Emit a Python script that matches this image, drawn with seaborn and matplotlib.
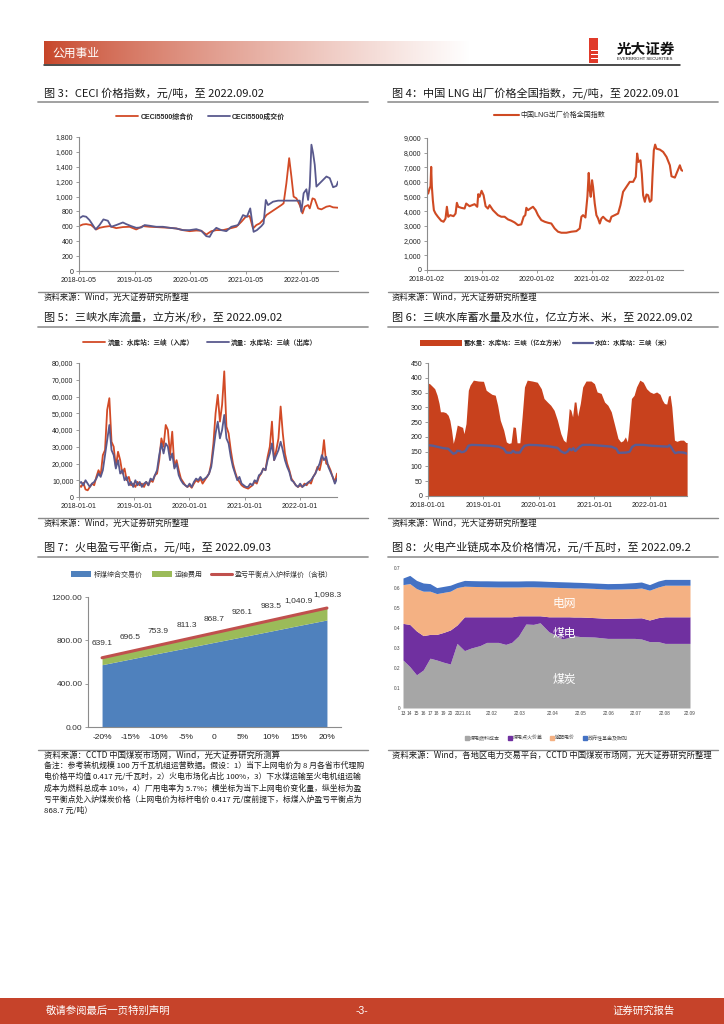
import numpy as np
import pandas as pd
import matplotlib
matplotlib.use('Agg')
import matplotlib.pyplot as plt
import matplotlib.dates as mdates
import matplotlib.ticker as mticker
from matplotlib.lines import Line2D
from matplotlib.patches import Rectangle, Patch
import seaborn as sns

# ---------------- data ----------------
# Fig 3 CECI (decimal years)
ceci_mix_t = [2018.01,2018.08,2018.14,2018.23,2018.32,2018.38,2018.47,2018.56,2018.68,2018.80,2018.92,
              2019.04,2019.16,2019.28,2019.40,2019.52,2019.64,2019.76,2019.88,
              2020.00,2020.12,2020.21,2020.30,2020.39,2020.48,2020.60,2020.72,2020.84,2020.93,
              2021.01,2021.08,2021.14,2021.20,2021.26,2021.32,2021.38,2021.47,2021.56,2021.65,2021.69,2021.74,2021.79,2021.83,2021.87,2021.92,2021.98,
              2022.03,2022.07,2022.13,2022.16,2022.21,2022.25,2022.31,2022.37,2022.46,2022.52,2022.58,2022.67]
ceci_mix_v = [603,625,630,617,558,580,594,603,576,590,594,
              558,603,594,590,585,580,571,549,
              535,544,540,490,535,549,549,571,594,661,
              729,738,571,617,639,684,751,796,841,886,909,1179,1516,1269,999,976,886,
              774,864,886,841,976,963,841,828,864,873,855,850]
ceci_deal_t = [2018.01,2018.08,2018.14,2018.20,2018.26,2018.31,2018.38,2018.45,2018.53,2018.59,2018.68,2018.80,2018.86,2018.95,
               2019.04,2019.13,2019.19,2019.28,2019.40,2019.52,2019.64,2019.76,2019.88,
               2020.00,2020.12,2020.21,2020.30,2020.36,2020.41,2020.48,2020.57,2020.66,2020.75,2020.87,2020.96,
               2021.03,2021.09,2021.15,2021.21,2021.29,2021.33,2021.37,2021.41,2021.50,2021.59,2021.68,2021.80,2021.92,2021.98,
               2022.01,2022.05,2022.10,2022.13,2022.16,2022.19,2022.22,2022.25,2022.28,2022.34,2022.40,2022.46,2022.52,2022.58,2022.64,2022.67]
ceci_deal_v = [706,738,729,684,617,558,617,693,675,594,617,652,630,603,
               580,585,617,608,594,594,580,571,549,
               549,562,540,468,459,526,580,549,535,594,617,751,
               729,841,526,549,603,639,954,886,931,945,945,945,945,945,
               796,1044,1098,954,1134,1697,1584,1427,1134,1179,1224,1269,1247,1125,1143,1202]

# Fig 4 LNG
lng_t = [2018.000,2018.024,2018.049,2018.067,2018.079,2018.091,
         2018.109,2018.128,2018.158,2018.201,2018.261,2018.304,2018.340,2018.365,2018.389,2018.426,
         2018.486,2018.523,2018.547,2018.571,2018.626,2018.687,2018.717,2018.778,2018.869,2018.918,
         2018.936,2018.960,2018.997,2019.033,2019.070,2019.112,2019.143,2019.204,2019.295,2019.356,
         2019.416,2019.477,2019.538,2019.599,2019.660,2019.720,2019.763,2019.793,2019.812,2019.842,
         2019.884,2019.933,2019.982,2020.024,2020.085,2020.146,2020.207,2020.267,2020.328,2020.389,
         2020.450,2020.541,2020.632,2020.723,2020.784,2020.815,2020.845,2020.888,2020.924,2020.948,
         2020.967,2020.985,2021.009,2021.027,2021.058,2021.088,2021.119,2021.149,2021.179,2021.210,
         2021.271,2021.331,2021.362,2021.422,2021.483,2021.526,2021.574,2021.635,2021.696,2021.757,
         2021.805,2021.830,2021.854,2021.891,2021.915,2021.939,2021.970,2022.000,2022.030,2022.061,
         2022.091,2022.109,2022.134,2022.158,2022.182,2022.243,2022.304,2022.365,2022.426,2022.456,
         2022.517,2022.559,2022.608,2022.638,2022.669]
lng_v = [5490,5210,5550,5710,7030,5710,
         4760,4080,3850,3630,3360,3290,3510,4310,3630,3740,
         3670,3850,4580,4310,4240,4190,4530,4350,4490,4310,
         5170,4990,5400,5100,4350,4190,4420,4080,3740,3630,
         3630,3450,3360,3240,3060,3110,3630,3740,4240,4080,
         4190,4310,4080,3740,3400,3290,3220,3170,2830,2610,
         2540,2540,2610,2650,2830,3630,3740,3580,4990,6620,
         5440,4990,6120,5670,4530,3740,3510,3170,3510,3630,
         3400,3290,3630,3740,3850,4420,5330,5670,6010,6010,
         6350,7940,7370,7480,6580,5100,4650,5150,5100,4650,
         4760,6350,8160,8550,8270,8210,8050,7710,7140,6390,
         6300,6690,7140,6800,6760]

# Fig 5 Three Gorges flow (roughly bi-weekly samples 2018-01-01 .. 2022-09-02)
flow_in = [7000,6000,8500,4500,4000,6000,8000,7000,12000,16000,
           13000,25000,28000,52000,59000,33000,30000,18000,27000,22000,
           14000,17000,10000,12000,7000,8000,6000,9000,7000,8000,
           6000,9000,7000,10000,9000,13000,14000,22000,35000,30000,
           43000,40000,25000,39000,18000,22000,16000,11000,9000,7000,
           6000,7000,5500,8000,10000,9000,11000,8000,10000,12000,
           14000,20000,32000,50000,61000,45000,55000,75000,42000,38000,
           28000,20000,15000,11000,9000,7000,6000,5500,5000,6000,
           7000,9000,8000,12000,14000,17000,16000,24000,30000,45000,
           22000,28000,35000,54000,38000,26000,20000,16000,11000,9000,
           7000,6000,7000,6000,8000,7000,9000,8000,12000,14000,
           18000,16000,22000,34000,20000,19000,16000,12000,9000,14000]
flow_out = [8000,9000,7000,10000,8000,6000,8000,9000,11000,14000,
            12000,16000,25000,34000,43000,28000,25000,17000,22000,14000,
            16000,10000,12000,7000,9000,6000,10000,7000,9000,6000,
            8000,9000,7000,11000,10000,13000,16000,25000,32000,26000,
            32000,30000,22000,26000,17000,20000,13000,10000,8000,7000,
            6000,8000,6000,9000,11000,10000,12000,10000,11000,12000,
            14000,18000,28000,38000,45000,35000,40000,49000,35000,32000,
            24000,18000,14000,10000,12000,8000,7000,6000,6000,8000,
            7000,10000,9000,13000,14000,17000,16000,22000,26000,32000,
            22000,25000,28000,33000,28000,22000,18000,15000,10000,9000,
            7000,6000,8000,6000,7000,8000,9000,10000,12000,14000,
            17000,20000,25000,22000,24000,18000,15000,12000,8000,11000]

# Fig 6 storage and level
stor_t = [2018.000,2018.030,2018.079,2018.121,2018.164,2018.200,2018.224,2018.273,2018.321,2018.364,
          2018.394,2018.424,2018.455,2018.485,2018.527,2018.576,2018.624,2018.648,2018.685,2018.727,
          2018.758,2018.818,2018.909,2019.000,2019.048,2019.091,2019.152,2019.212,2019.255,2019.303,
          2019.364,2019.412,2019.455,2019.497,2019.533,2019.576,2019.606,2019.655,2019.697,2019.739,
          2019.788,2019.879,2019.970,2020.042,2020.091,2020.152,2020.212,2020.273,2020.333,2020.394,
          2020.442,2020.485,2020.515,2020.545,2020.576,2020.606,2020.636,2020.667,2020.697,2020.745,
          2020.788,2020.848,2020.939,2021.000,2021.048,2021.121,2021.182,2021.242,2021.303,2021.364,
          2021.424,2021.473,2021.515,2021.558,2021.594,2021.618,2021.667,2021.715,2021.758,2021.818,
          2021.879,2021.939,2022.000,2022.061,2022.121,2022.182,2022.224,2022.261,2022.303,2022.333,
          2022.364,2022.394,2022.442,2022.485,2022.545,2022.606,2022.648,2022.670]
stor_v = [382,380,371,363,341,313,285,285,282,273,
          256,223,178,200,240,236,232,211,245,358,
          375,392,389,388,358,352,344,341,307,256,
          223,183,178,180,234,232,180,180,270,369,
          392,389,385,363,330,318,307,290,256,211,
          189,182,228,296,290,268,318,318,270,313,
          369,389,389,380,352,347,318,307,285,240,
          195,183,187,200,183,223,330,341,369,392,
          385,363,352,347,352,344,324,313,311,338,
          341,301,189,185,189,189,181,181]
level_t = [2018.000,2018.091,2018.182,2018.273,2018.364,2018.406,2018.455,2018.503,2018.527,2018.576,
           2018.606,2018.648,2018.685,2018.727,2018.788,2018.939,2019.121,2019.273,2019.364,2019.412,
           2019.497,2019.533,2019.576,2019.655,2019.697,2019.739,2019.818,2019.970,2020.152,2020.333,
           2020.406,2020.467,2020.515,2020.552,2020.588,2020.618,2020.655,2020.697,2020.745,2020.788,
           2020.939,2021.121,2021.303,2021.394,2021.436,2021.576,2021.636,2021.679,2021.739,2021.879,
           2022.030,2022.212,2022.321,2022.352,2022.382,2022.424,2022.455,2022.515,2022.606,2022.670]
level_v = [172,170,166,162,160,152,143,146,153,152,
           148,150,155,170,173,172,170,167,160,147,
           146,153,147,147,160,170,173,172,169,163,
           150,145,150,160,155,162,152,160,168,173,
           173,170,167,160,146,147,150,166,173,173,
           170,168,167,172,165,152,145,148,147,143]

# Fig 7 break-even
be_cats = ['-20%', '-15%', '-10%', '-5%', '0', '5%', '10%', '15%', '20%']
be_coal = [575, 627, 679, 730, 782, 833, 885, 937, 988]
be_transport = [64, 70, 75, 81, 87, 93, 98, 104, 110]
be_total = [639.1, 696.5, 753.9, 811.3, 868.7, 926.1, 983.5, 1040.9, 1098.3]

# Fig 8 cost chain (period index along the category axis)
chain_x = [0, 1, 2, 3, 4, 5, 6, 7, 8, 9.1, 10.1, 11.4, 12.4, 14.1, 15.2, 16.1, 17.1, 18.2, 19.3, 20.3,
           21.6, 22.6, 23.6, 24.6, 25.3, 26.3, 28.3, 30.3, 32.3, 34.3, 35.3, 36.5, 37.8, 38.8, 40.8, 42.5]
chain_coal = [0.240,0.207,0.166,0.190,0.249,0.240,0.229,0.220,0.323,0.287,0.300,0.312,0.328,0.328,0.318,0.328,
              0.360,0.420,0.418,0.426,0.381,0.365,0.345,0.353,0.361,0.357,0.355,0.348,0.348,0.348,0.345,
              0.332,0.332,0.323,0.323,0.323]
chain_margin = [0.183,0.211,0.219,0.172,0.119,0.128,0.149,0.170,0.092,0.169,0.156,0.144,0.128,0.128,0.138,0.128,
                0.101,0.041,0.043,0.035,0.075,0.091,0.111,0.103,0.094,0.098,0.097,0.100,0.100,0.102,0.106,
                0.108,0.120,0.133,0.133,0.133]
chain_grid = [0.194,0.204,0.212,0.222,0.216,0.204,0.200,0.194,0.187,0.153,0.152,0.151,0.150,0.149,0.149,0.149,
              0.144,0.145,0.145,0.144,0.148,0.147,0.146,0.145,0.145,0.145,0.146,0.146,0.147,0.147,0.149,
              0.149,0.153,0.158,0.158,0.158]
chain_fund = [0.033,0.041,0.041,0.041,0.038,0.030,0.030,0.030,0.025,0.029,0.029,0.029,0.030,0.030,0.030,0.030,
              0.030,0.030,0.030,0.030,0.029,0.029,0.029,0.029,0.029,0.028,0.027,0.028,0.028,0.030,0.030,
              0.028,0.030,0.029,0.029,0.029]
chain_tick_pos = [0, 1, 2, 3, 4, 5, 6, 7, 8.9, 13.1, 17.2, 22.1, 26.3, 30.5, 34.5, 38.7, 42.5]
chain_tick_lab = ['13', '14', '15', '16', '17', '18', '19', '20', '2021.01', '22.02', '22.03', '22.04',
                  '22.05', '22.06', '22.07', '22.08', '22.09']

# ---------------- style ----------------
sns.set_theme(style='ticks')
plt.rcParams['font.family'] = ['Liberation Sans', 'Noto Sans CJK SC', 'DejaVu Sans']
plt.rcParams['axes.unicode_minus'] = False

W, H = 724, 1024
fig = plt.figure(figsize=(7.24, 10.24), dpi=100)
fig.patch.set_facecolor('white')

def fx(x): return x / W
def fy(y): return 1 - y / H
def rect(l, t, r, b): return [fx(l), fy(b), (r - l) / W, (b - t) / H]
def ftext(x, y, s, **kw):
    kw.setdefault('va', 'center')
    return fig.text(fx(x), fy(y), s, **kw)
def hline(x0, x1, y, color, lw):
    fig.add_artist(Line2D([fx(x0), fx(x1)], [fy(y), fy(y)], color=color, lw=lw, transform=fig.transFigure))
def frect(l, t, r, b, color):
    fig.add_artist(Rectangle((fx(l), fy(b)), (r - l) / W, (b - t) / H, facecolor=color, edgecolor='none',
                             transform=fig.transFigure))
def yr2date(v):
    v = np.asarray(v, dtype=float)
    return pd.Timestamp('2018-01-01') + pd.to_timedelta((v - 2018.0) * 365.25, unit='D')

RED = '#d24a26'
NAVY = '#59598d'
AXC = '#8c8c8c'
TXT = '#222222'

def style_ax(ax, ylim, yticks, yfmt, lsize=5):
    ax.set_ylim(ylim)
    ax.set_yticks(yticks)
    ax.yaxis.set_major_formatter(yfmt)
    for s in ['top', 'right']:
        ax.spines[s].set_visible(False)
    for s in ['left', 'bottom']:
        ax.spines[s].set_color(AXC)
        ax.spines[s].set_linewidth(0.8)
    ax.tick_params(axis='both', labelsize=lsize, colors=AXC, labelcolor=TXT, length=2, width=0.6, pad=2)
    ax.set_xlabel('')
    ax.set_ylabel('')
    ax.set_facecolor('white')

def date_axis(ax, tick_strs, start, end):
    ax.set_xlim(pd.Timestamp(start), pd.Timestamp(end))
    pos = mdates.date2num(pd.to_datetime(tick_strs).to_pydatetime())
    ax.set_xticks(pos)
    ax.set_xticklabels(tick_strs)

comma = mticker.FuncFormatter(lambda v, p: f'{int(v):,}')

# ---------------- header / footer ----------------
axh = fig.add_axes(rect(44, 41, 470, 64))
g = np.linspace(0, 1, 300) ** 0.8
c0 = np.array([0.78, 0.27, 0.16])
grad = (c0[None, :] * (1 - g[:, None]) + np.ones(3)[None, :] * g[:, None])[None, :, :]
axh.imshow(grad, aspect='auto', extent=[0, 1, 0, 1])
axh.axis('off')
ftext(52, 53, '公用事业', color='white', fontsize=8.5, family=['Noto Sans CJK SC'])
hline(44, 680, 64.5, '#1a1a1a', 1.1)
# logo
frect(589, 38, 598, 63, '#e03a2a')
for yy in [50, 54, 58]:
    frect(591, yy, 598, yy + 1.3, 'white')
ftext(617, 49, '光大证券', fontsize=10.5, fontweight='bold', color='#111111', family=['Noto Sans CJK SC'])
ftext(617, 59, 'EVERBRIGHT SECURITIES', fontsize=3.2, color='#111111')

frect(0, 998, 724, 1024, '#c6432a')
ftext(46, 1011, '敬请参阅最后一页特别声明', fontsize=7.5, color='white', family=['Noto Sans CJK SC'])
ftext(362, 1011, '-3-', fontsize=7.5, color='white', ha='center')
ftext(675, 1011, '证券研究报告', fontsize=7.5, color='white', ha='right', family=['Noto Sans CJK SC'])

# ---------------- titles / sources ----------------
TF = ['Noto Sans CJK SC', 'DejaVu Sans']
def title(x, y, s):
    ftext(x, y, s, fontsize=8, color='#1a1a1a', family=TF)
def source(x, y, s):
    ftext(x, y, s, fontsize=6, color='#1a1a1a', family=TF)

title(44, 93, '图 3：CECI 价格指数，元/吨，至 2022.09.02')
title(392, 93, '图 4：中国 LNG 出厂价格全国指数，元/吨，至 2022.09.01')
title(44, 318, '图 5：三峡水库流量，立方米/秒，至 2022.09.02')
title(392, 318, '图 6：三峡水库蓄水量及水位，亿立方米、米，至 2022.09.02')
title(44, 548, '图 7：火电盈亏平衡点，元/吨，至 2022.09.03')
title(392, 548, '图 8：火电产业链成本及价格情况，元/千瓦时，至 2022.09.2')
for yy in [101.5, 326.5, 556.5]:
    hline(38, 368, yy, '#9a9a9a', 1.3)
    hline(388, 718, yy, '#9a9a9a', 1.3)
for yy in [291.5, 517.5, 749.5]:
    hline(38, 368, yy, '#8a8a8a', 1.0)
    hline(388, 718, yy, '#8a8a8a', 1.0)
source(44, 297, '资料来源：Wind，光大证券研究所整理')
source(392, 297, '资料来源：Wind，光大证券研究所整理')
source(44, 523, '资料来源：Wind，光大证券研究所整理')
source(392, 523, '资料来源：Wind，光大证券研究所整理')
source(44, 755, '资料来源：CCTD 中国煤炭市场网，Wind，光大证券研究所测算')
source(392, 755, '资料来源：Wind，各地区电力交易平台，CCTD 中国煤炭市场网，光大证券研究所整理')
notes = ['备注：参考装机规模 100 万千瓦机组运营数据。假设：1）当下上网电价为 8 月各省市代理购',
         '电价格平均值 0.417 元/千瓦时，2）火电市场化占比 100%，3）下水煤运输至火电机组运输',
         '成本为燃料总成本 10%，4）厂用电率为 5.7%；横坐标为当下上网电价变化量，纵坐标为盈',
         '亏平衡点处入炉煤炭价格（上网电价为标杆电价 0.417 元/度前提下，标煤入炉盈亏平衡点为',
         '868.7 元/吨）']
for i, s in enumerate(notes):
    ftext(44, 766 + i * 11.2, s, fontsize=5.65, color='#1a1a1a', family=TF)

# ---------------- Fig 3 ----------------
ax3 = fig.add_axes(rect(79, 137, 338, 271))
sns.lineplot(x=yr2date(ceci_mix_t), y=ceci_mix_v, ax=ax3, color=RED, lw=1.3, label='CECI5500综合价')
sns.lineplot(x=yr2date(ceci_deal_t), y=ceci_deal_v, ax=ax3, color=NAVY, lw=1.3, label='CECI5500成交价')
style_ax(ax3, (0, 1800), np.arange(0, 1801, 200), comma)
date_axis(ax3, ['2018-01-05', '2019-01-05', '2020-01-05', '2021-01-05', '2022-01-05'], '2018-01-05', '2022-09-02')
ax3.legend(loc='center', bbox_to_anchor=(0.47, 1.15), ncol=2, frameon=False, handlelength=3.2,
           columnspacing=2.0, handletextpad=0.3, prop={'size': 5, 'weight': 'bold'})

# ---------------- Fig 4 ----------------
ax4 = fig.add_axes(rect(427, 138, 683, 270))
sns.lineplot(x=yr2date(lng_t), y=lng_v, ax=ax4, color='#cf4a23', lw=1.5, label='中国LNG出厂价格全国指数')
style_ax(ax4, (0, 9000), np.arange(0, 9001, 1000), comma)
date_axis(ax4, ['2018-01-02', '2019-01-02', '2020-01-02', '2021-01-02', '2022-01-02'], '2018-01-02', '2022-09-01')
ax4.legend(loc='center', bbox_to_anchor=(0.48, 1.17), ncol=1, frameon=False, handlelength=3.5,
           handletextpad=0.3, prop={'size': 5})

# ---------------- Fig 5 ----------------
ax5 = fig.add_axes(rect(79, 363, 337, 497))
flow_dates = pd.date_range('2018-01-01', '2022-09-02', periods=len(flow_in))
sns.lineplot(x=flow_dates, y=flow_in, ax=ax5, color=RED, lw=1.3, label='流量：水库站：三峡（入库）')
sns.lineplot(x=flow_dates, y=flow_out, ax=ax5, color=NAVY, lw=1.3, label='流量：水库站：三峡（出库）')
style_ax(ax5, (0, 80000), np.arange(0, 80001, 10000), comma)
date_axis(ax5, ['2018-01-01', '2019-01-01', '2020-01-01', '2021-01-01', '2022-01-01'], '2018-01-01', '2022-09-02')
ax5.legend(loc='center', bbox_to_anchor=(0.47, 1.15), ncol=2, frameon=False, handlelength=3.3,
           columnspacing=2.0, handletextpad=0.3, prop={'size': 4.8, 'weight': 'bold'})

# ---------------- Fig 6 ----------------
ax6 = fig.add_axes(rect(428, 363, 687, 496))
sd = yr2date(stor_t)
ax6.fill_between(sd, 0, stor_v, color='#c8411d', lw=0)
sns.lineplot(x=yr2date(level_t), y=level_v, ax=ax6, color='#5a5d94', lw=1.7, legend=False)
style_ax(ax6, (0, 450), np.arange(0, 451, 50), mticker.FuncFormatter(lambda v, p: f'{int(v)}'))
date_axis(ax6, ['2018-01-01', '2019-01-01', '2020-01-01', '2021-01-01', '2022-01-01'], '2018-01-01', '2022-09-02')
l6a = ax6.legend(handles=[Patch(facecolor='#c8411d', edgecolor='none')], labels=['蓄水量：水库站：三峡（亿立方米）'],
                 loc='center', bbox_to_anchor=(0.25, 1.15), frameon=False, handlelength=6.5, handleheight=1.1,
                 handletextpad=0.3, prop={'size': 4.6, 'weight': 'bold'})
ax6.add_artist(l6a)
ax6.legend(handles=[Line2D([], [], color='#5a5d94', lw=1.6)], labels=['水位：水库站：三峡（米）'],
           loc='center', bbox_to_anchor=(0.75, 1.15), frameon=False, handlelength=3.2,
           handletextpad=0.3, prop={'size': 4.6, 'weight': 'bold'})

# ---------------- Fig 7 ----------------
ax7 = fig.add_axes(rect(88, 597, 341, 727))
xi = np.arange(len(be_cats))
ax7.stackplot(xi, be_coal, be_transport, colors=['#4f81bd', '#9bbb59'], labels=['标煤综合交易价', '运输费用'], lw=0)
sns.lineplot(x=xi, y=be_total, ax=ax7, color='#c0504d', lw=2.2, label='盈亏平衡点入炉标煤价（含税）')
style_ax(ax7, (0, 1200), [0, 400, 800, 1200], mticker.FormatStrFormatter('%.2f'), lsize=6)
ax7.set_xlim(-0.5, len(be_cats) - 0.5)
ax7.set_xticks(xi)
ax7.set_xticklabels(be_cats)
ax7.tick_params(axis='x', length=0, pad=5)
ax7.tick_params(axis='y', labelcolor='#333333')
for xv, tv in zip(xi, be_total):
    ax7.annotate(f'{tv:,.1f}', (xv, tv), xytext=(0, 10), textcoords='offset points', ha='center', va='center',
                 fontsize=6, color='#333333')
ax7.legend(loc='center', bbox_to_anchor=(0.45, 1.17), ncol=3, frameon=False, handlelength=3.0,
           handleheight=0.9, columnspacing=1.2, handletextpad=0.4, prop={'size': 5},
           labelcolor='#333333')

# ---------------- Fig 8 ----------------
ax8 = fig.add_axes(rect(403, 568, 690, 708))
c8 = ['#a6a6a6', '#7030a0', '#f4b183', '#4472c4']
ax8.stackplot(chain_x, chain_coal, chain_margin, chain_grid, chain_fund, colors=c8, lw=0)
ax8.set_xlim(0, 42.5)
ax8.set_ylim(0, 0.7)
ax8.set_yticks(np.arange(0, 0.71, 0.1))
ax8.yaxis.set_major_formatter(mticker.FuncFormatter(lambda v, p: '0' if abs(v) < 1e-9 else f'{v:.1f}'))
ax8.set_xticks(chain_tick_pos)
ax8.set_xticklabels(chain_tick_lab)
for s in ax8.spines.values():
    s.set_visible(False)
ax8.tick_params(axis='both', length=0, labelsize=3.4, labelcolor='#444444', pad=2)
for s, yy in [('电网', 603), ('煤电', 633), ('煤炭', 679)]:
    ftext(564, yy, s, fontsize=8.5, color='white', ha='center', family=TF)
h8 = [Line2D([], [], marker='s', ls='none', color=c, markersize=2.5) for c in c8]
ax8.legend(h8, ['煤电燃料成本', '煤电点火价差', '输配电价', '政府性基金及附加'], loc='center',
           bbox_to_anchor=(0.5, -0.21), ncol=4, frameon=False, handlelength=0.8, handletextpad=0.2,
           columnspacing=1.5, prop={'size': 3.6}, labelcolor='#444444')

fig.savefig('out.png', dpi=100, facecolor='white')
